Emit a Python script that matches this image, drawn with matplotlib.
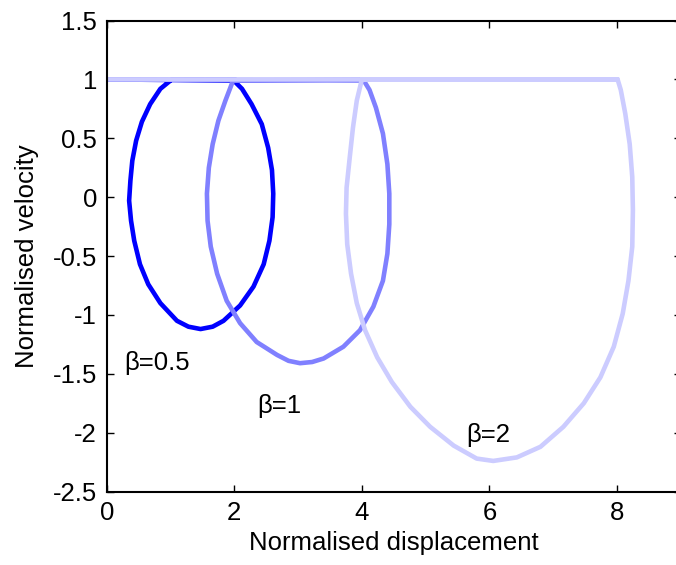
import matplotlib
matplotlib.use("Agg")
import matplotlib.pyplot as plt

plt.rcParams['font.family'] = ['Liberation Sans', 'DejaVu Sans']
plt.rcParams['axes.unicode_minus'] = False

# points (displacement, velocity):
# constant-speed run at v=1, then the loop back round to v=1
x_b05 = [0, 1.99, 2.12, 2.27, 2.43, 2.53, 2.59, 2.61, 2.60, 2.55, 2.46, 2.30, 2.09,
         1.83, 1.66, 1.47, 1.28, 1.10, 0.84, 0.65, 0.52, 0.43, 0.38, 0.35, 0.37, 0.40, 0.46,
         0.55, 0.68, 0.84, 1.02, 2]
v_b05 = [1, 0.99, 0.92, 0.79, 0.62, 0.42, 0.23, 0.03, -0.17, -0.37, -0.57, -0.76, -0.92,
         -1.05, -1.10, -1.12, -1.10, -1.05, -0.90, -0.74, -0.57, -0.37, -0.20, -0.03, 0.14, 0.31, 0.48,
         0.64, 0.79, 0.92, 1.0, 1]

x_b1 = [0, 4.03, 4.12, 4.22, 4.33, 4.40, 4.43, 4.43, 4.40, 4.33, 4.18, 3.97, 3.71,
        3.40, 3.22, 3.03, 2.85, 2.67, 2.35, 2.09, 1.88, 1.73, 1.63, 1.58, 1.57, 1.60, 1.66,
        1.75, 1.86, 1.98, 4]
v_b1 = [1, 0.99, 0.91, 0.76, 0.54, 0.28, 0.03, -0.23, -0.48, -0.71, -0.93, -1.13, -1.27,
        -1.37, -1.40, -1.41, -1.39, -1.34, -1.23, -1.07, -0.88, -0.65, -0.42, -0.20, 0.03, 0.25, 0.45,
        0.65, 0.82, 0.99, 1]

x_b2 = [0, 8.01, 8.06, 8.13, 8.20, 8.24, 8.25, 8.24, 8.18, 8.09, 7.95, 7.74, 7.48,
        7.16, 6.80, 6.43, 6.06, 5.80, 5.44, 5.07, 4.76, 4.47, 4.24, 4.05, 3.92,
        3.83, 3.77, 3.75, 3.76, 3.81, 3.86, 3.92, 4.0, 8]
v_b2 = [1, 1.0, 0.91, 0.71, 0.45, 0.17, -0.11, -0.42, -0.71, -0.99, -1.27, -1.53, -1.75,
        -1.95, -2.12, -2.21, -2.24, -2.22, -2.11, -1.95, -1.78, -1.57, -1.36, -1.13, -0.90,
        -0.65, -0.40, -0.14, 0.08, 0.34, 0.59, 0.82, 1.0, 1]

xticks = [0, 2, 4, 6, 8]
yticks = [-2.5, -2, -1.5, -1, -0.5, 0, 0.5, 1, 1.5]
ytick_labels = ['-2.5', '-2', '-1.5', '-1', '-0.5', '0', '0.5', '1', '1.5']

fig = plt.figure(figsize=(6.76, 5.65), dpi=100)
ax = fig.add_axes([0.158, 0.130, 0.849, 0.8337])

ax.plot(x_b05, v_b05, color='#0000ff', lw=3.3, solid_joinstyle='round')
ax.plot(x_b1, v_b1, color='#8080ff', lw=3.3, solid_joinstyle='round')
ax.plot(x_b2, v_b2, color='#ccccff', lw=3.3, solid_joinstyle='round')

fs = 18.5
ax.text(0.28, -1.47, 'β=0.5', fontsize=fs)
ax.text(2.36, -1.83, 'β=1', fontsize=fs)
ax.text(5.63, -2.08, 'β=2', fontsize=fs)

ax.set_xlim(0, 9)
ax.set_ylim(-2.5, 1.5)
ax.set_xticks(xticks)
ax.set_xticklabels([str(t) for t in xticks])
ax.set_yticks(yticks)
ax.set_yticklabels(ytick_labels)
ax.tick_params(direction='in', length=5, width=1, top=True, right=True,
               labelsize=fs, pad=7)
for s in ax.spines.values():
    s.set_linewidth(1.5)

ax.set_xlabel('Normalised displacement', fontsize=fs, labelpad=4)
ax.set_ylabel('Normalised velocity', fontsize=fs, labelpad=10)

fig.savefig('out.png', dpi=100)
